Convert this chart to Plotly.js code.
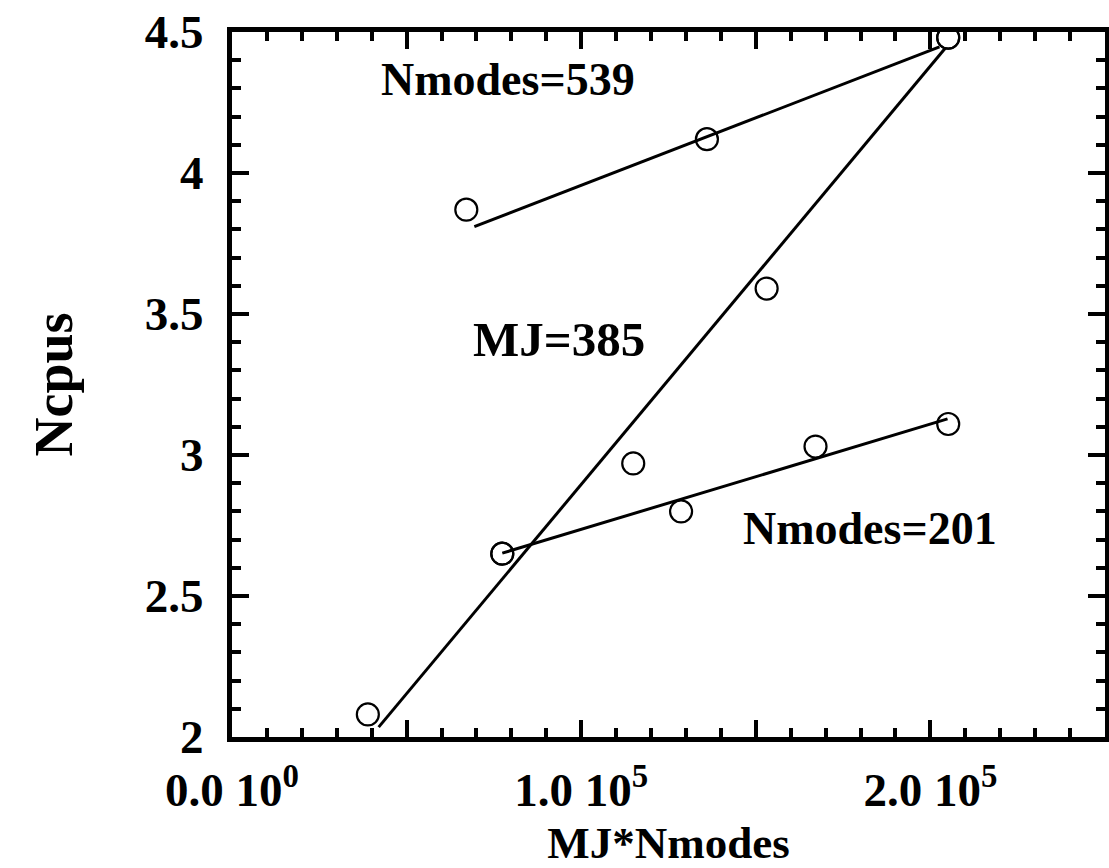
<!DOCTYPE html>
<html>
<head>
<meta charset="utf-8">
<script src="https://cdn.plot.ly/plotly-3.0.1.min.js"></script>
<style>html,body{margin:0;padding:0;background:#fff;}#chart{width:1109px;height:868px;}</style>
</head>
<body>
<div id="chart"></div>
<script>
// Measured points (MJ*Nmodes, Ncpus)
const n539X = [67100, 136000, 205100];
const n539Y = [3.87, 4.12, 4.48];
const n201X = [77400, 128600, 167100, 205100];
const n201Y = [2.65, 2.80, 3.03, 3.11];
const mj385X = [38900, 77400, 114900, 153100, 205100];
const mj385Y = [2.08, 2.65, 2.97, 3.59, 4.48];
// Fitted lines (end points)
const fit539X = [69400, 202600];
const fit539Y = [3.81, 4.447];
const fit201X = [77400, 204900];
const fit201Y = [2.652, 3.128];
const fitMJX = [42000, 204300];
const fitMJY = [2.035, 4.443];
// Ticks
const xTickVals = [0, 50000, 100000, 150000, 200000, 250000];
const xTickText = ['0.0 10<sup>0</sup>', '', '1.0 10<sup>5</sup>', '', '2.0 10<sup>5</sup>', ''];
const yTickVals = [2, 2.5, 3, 3.5, 4, 4.5];
const yTickText = ['2', '2.5', '3', '3.5', '4', '4.5'];
// Labels
const labels = [
  {text: 'Nmodes=539', x: 79000, y: 4.33, size: 46},
  {text: 'MJ=385', x: 93600, y: 3.41, size: 49},
  {text: 'Nmodes=201', x: 182700, y: 2.74, size: 46}
];

const FONT = 'Liberation Serif, Times New Roman, serif';
const mk = {symbol: 'circle-open', size: 22, color: '#000', line: {width: 2.2, color: '#000'}};
const ln = {color: '#000', width: 3};

const traces = [
  {x: fit539X, y: fit539Y, mode: 'lines', line: ln, hoverinfo: 'skip'},
  {x: fit201X, y: fit201Y, mode: 'lines', line: ln, hoverinfo: 'skip'},
  {x: fitMJX, y: fitMJY, mode: 'lines', line: ln, hoverinfo: 'skip'},
  {x: n539X, y: n539Y, mode: 'markers', marker: mk},
  {x: n201X, y: n201Y, mode: 'markers', marker: mk},
  {x: mj385X, y: mj385Y, mode: 'markers', marker: mk}
];

const axisCommon = {
  showgrid: false, zeroline: false, showline: true, linecolor: '#000', linewidth: 5,
  mirror: 'allticks', ticks: 'inside', tickcolor: '#000', tickwidth: 4, ticklen: 17,
  tickmode: 'array', tickfont: {family: FONT, size: 47, color: '#000', weight: 'bold'}
};

const layout = {
  width: 1109, height: 868,
  margin: {l: 232, r: 4, t: 32, b: 131},
  paper_bgcolor: '#fff', plot_bgcolor: '#fff',
  showlegend: false,
  font: {family: FONT, color: '#000'},
  xaxis: Object.assign({}, axisCommon, {
    range: [0, 250000], tickvals: xTickVals, ticktext: xTickText,
    ticklabelstandoff: 8,
    minor: {tickmode: 'linear', tick0: 0, dtick: 10000, ticks: 'inside', ticklen: 9, tickwidth: 4, tickcolor: '#000'},
    title: {text: 'MJ*Nmodes', font: {family: FONT, size: 45, color: '#000', weight: 'bold'}, standoff: 16}
  }),
  yaxis: Object.assign({}, axisCommon, {
    range: [2, 4.5], tickvals: yTickVals, ticktext: yTickText,
    ticklabelstandoff: 14,
    minor: {tickmode: 'linear', tick0: 2, dtick: 0.1, ticks: 'inside', ticklen: 9, tickwidth: 4, tickcolor: '#000'},
    title: {text: 'Ncpus', font: {family: FONT, size: 54, color: '#000', weight: 'bold'}, standoff: 56}
  }),
  annotations: labels.map(l => ({
    text: '<b>' + l.text + '</b>', x: l.x, y: l.y, xref: 'x', yref: 'y', showarrow: false,
    font: {family: FONT, size: l.size, color: '#000'}
  }))
};

Plotly.newPlot('chart', traces, layout, {staticPlot: true, displayModeBar: false});
</script>
</body>
</html>
